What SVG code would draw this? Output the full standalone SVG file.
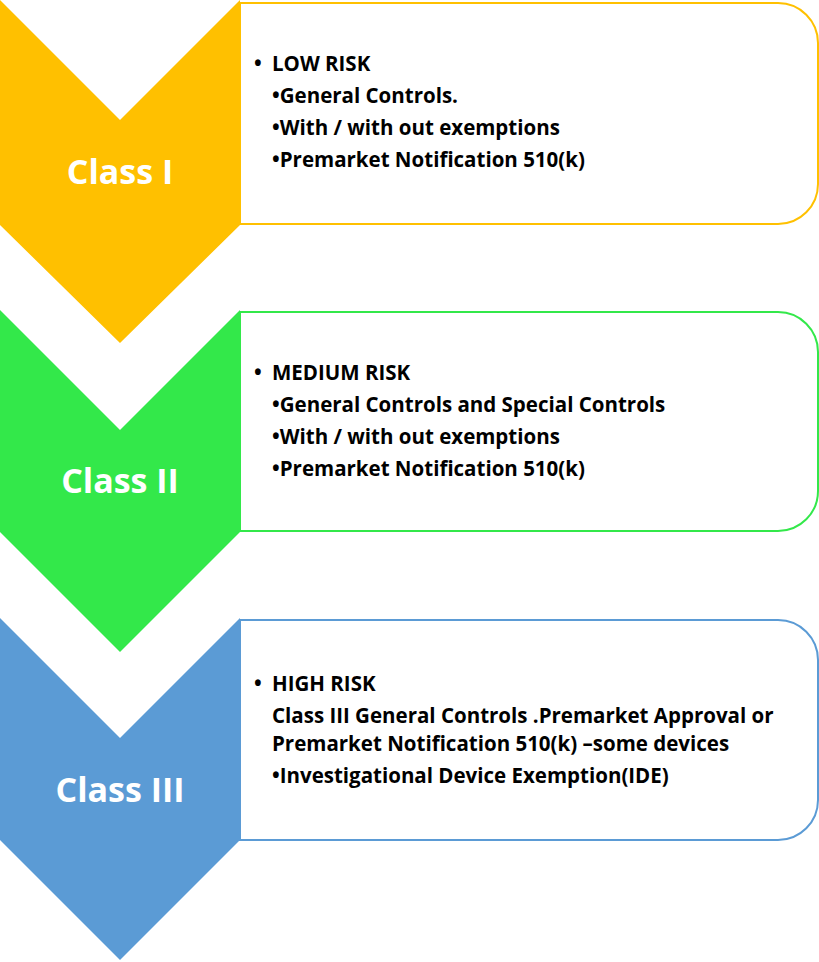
<svg xmlns="http://www.w3.org/2000/svg" width="819" height="962" viewBox="0 0 819 962">
<style>
.lbl{font-family:"Open Sans","Liberation Sans",sans-serif;font-weight:bold;font-size:34px;fill:#fff;text-anchor:middle}
.t{font-family:"Open Sans","Liberation Sans",sans-serif;font-weight:bold;font-size:20.5px;fill:#000}
.box{fill:#fff;stroke-width:2}
</style>
<rect width="819" height="962" fill="#fff"/>
<g id="class1">
<path class="box" stroke="#FFC000" d="M240,3 H778 A40,40 0 0 1 818,43 V184 A40,40 0 0 1 778,224 H240 Z"/>
<polygon fill="#FFC000" points="0,0 120,120 240,0 240,225 120,343 0,225"/>
<text class="lbl" x="120" y="184">Class I</text>
<text class="t" x="254" y="71">•</text><text class="t" x="272" y="71">LOW RISK</text>
<text class="t" x="272" y="103">•General Controls.</text>
<text class="t" x="272" y="135">•With / with out exemptions</text>
<text class="t" x="272" y="167">•Premarket Notification 510(k)</text>
</g>
<g id="class2">
<path class="box" stroke="#33E84A" d="M240,312 H778 A40,40 0 0 1 818,352 V491 A40,40 0 0 1 778,531 H240 Z"/>
<polygon fill="#33E84A" points="0,310 120,430 240,310 240,532 120,652 0,532"/>
<text class="lbl" x="120" y="493">Class II</text>
<text class="t" x="254" y="380">•</text><text class="t" x="272" y="380">MEDIUM RISK</text>
<text class="t" x="272" y="412">•General Controls and Special Controls</text>
<text class="t" x="272" y="444">•With / with out exemptions</text>
<text class="t" x="272" y="476">•Premarket Notification 510(k)</text>
</g>
<g id="class3">
<path class="box" stroke="#5B9BD5" d="M240,620 H778 A40,40 0 0 1 818,660 V800 A40,40 0 0 1 778,840 H240 Z"/>
<polygon fill="#5B9BD5" points="0,618 120,738 240,618 240,840 120,960 0,840"/>
<text class="lbl" x="120" y="802">Class III</text>
<text class="t" x="254" y="691">•</text><text class="t" x="272" y="691">HIGH RISK</text>
<text class="t" x="272" y="723">Class III General Controls .Premarket Approval or</text>
<text class="t" x="272" y="751">Premarket Notification 510(k) –some devices</text>
<text class="t" x="272" y="783">•Investigational Device Exemption(IDE)</text>
</g>
<g id="connectors"></g>
</svg>
